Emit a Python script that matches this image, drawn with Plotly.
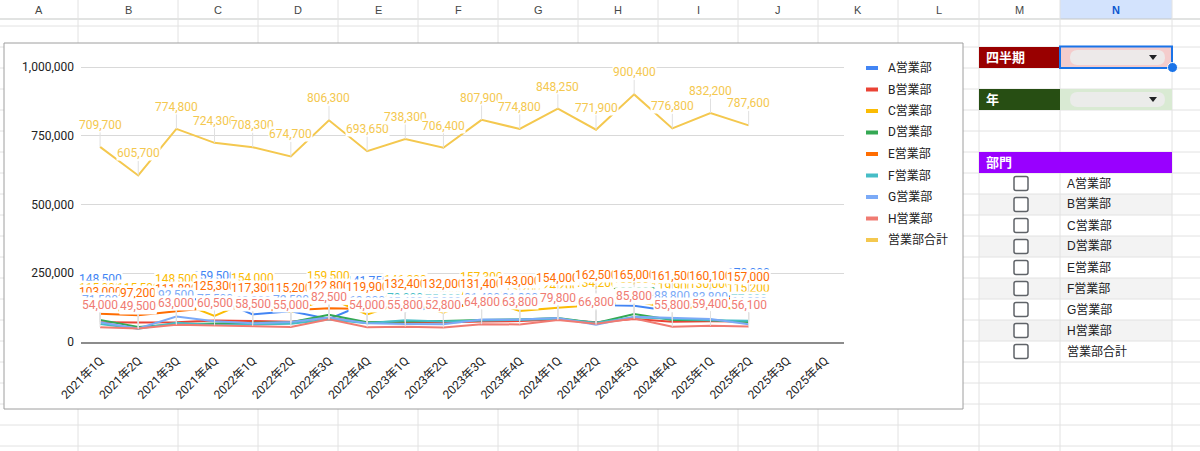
import plotly.graph_objects as go

W, H = 1200, 451
FONT = "Roboto, 'Noto Sans CJK JP', sans-serif"
SHEET_FONT = "Arial, 'Liberation Sans', 'Noto Sans CJK JP', sans-serif"

# x axis categories (the last two quarters have no data yet)
quarters = ["2021年1Q", "2021年2Q", "2021年3Q", "2021年4Q",
            "2022年1Q", "2022年2Q", "2022年3Q", "2022年4Q",
            "2023年1Q", "2023年2Q", "2023年3Q", "2023年4Q",
            "2024年1Q", "2024年2Q", "2024年3Q", "2024年4Q",
            "2025年1Q", "2025年2Q", "2025年3Q", "2025年4Q"]

# sales per department (hidden ones estimated)
dept_a = [148500, 120000, 152000, 159500, 100500, 112000, 83500, 141750, 112000,
          128000, 140000, 135000, 150000, 134600, 131400, 112000, 165000, 170000]
dept_b = [72000, 70500, 72000, 78500, 76000, 74000, 88000, 70000, 72500,
          71000, 75000, 76000, 82000, 72000, 84000, 74000, 75500, 74500]
dept_c = [115000, 115500, 148500, 95000, 154000, 108000, 159500, 100000, 146200,
          106600, 157300, 113200, 124200, 134200, 150000, 119900, 130000, 115200]
dept_d = [80500, 55000, 65000, 68000, 70000, 72000, 99000, 72000, 75000,
          76000, 80000, 82000, 87000, 69000, 102000, 80000, 79000, 73000]
dept_e = [103000, 97200, 111800, 125300, 117300, 115200, 122800, 119900, 132400,
          132000, 131400, 143000, 154000, 162500, 165000, 161500, 160100, 157000]
dept_f = [65200, 48500, 70000, 62000, 64000, 66000, 82000, 68000, 79000,
          75000, 78000, 80000, 84000, 70000, 90000, 84800, 79400, 77000]
dept_g = [71500, 49500, 92500, 75500, 68000, 72500, 89000, 68000, 65400,
          65000, 81400, 81800, 87250, 62800, 92200, 88800, 83800, 64800]
dept_h = [54000, 49500, 63000, 60500, 58500, 55000, 82500, 54000, 55800,
          52800, 64800, 63800, 79800, 66800, 85800, 55800, 59400, 56100]
total = [709700, 605700, 774800, 724300, 708300, 674700, 806300, 693650, 738300,
         706400, 807900, 774800, 848250, 771900, 900400, 776800, 832200, 787600]

series_names = ["A営業部", "B営業部", "C営業部", "D営業部", "E営業部",
                "F営業部", "G営業部", "H営業部", "営業部合計"]
series_values = [dept_a, dept_b, dept_c, dept_d, dept_e, dept_f, dept_g, dept_h, total]
series_colors = ["#4285f4", "#ea4335", "#fbbc04", "#34a853", "#ff6d01",
                 "#46bdc6", "#7baaf7", "#f07b72", "#f4c84f"]

y_ticks = [0, 250000, 500000, 750000, 1000000]

# spreadsheet around the chart
col_letters = ["A", "B", "C", "D", "E", "F", "G", "H", "I", "J", "K", "L", "M", "N"]
col_edges = [0, 78, 178, 258, 338, 418, 498, 578, 658, 738, 818, 898, 979, 1060, 1172]
row_lines = [26, 47, 68, 89, 110, 131, 152, 173, 194, 215, 236, 257, 278, 299,
             320, 341, 362, 383, 404, 425, 446]


def px(x):
    return x / W


def py(y):
    return 1 - y / H


shapes = []
annotations = []


def rect(x0, y0, x1, y1, fill, line_color=None, width=0):
    shapes.append(dict(type="rect", xref="paper", yref="paper",
                       x0=px(x0), x1=px(x1), y0=py(y1), y1=py(y0),
                       fillcolor=fill, line=dict(color=line_color or fill, width=width),
                       layer="below"))


def seg(x0, y0, x1, y1, color, width=1):
    shapes.append(dict(type="line", xref="paper", yref="paper",
                       x0=px(x0), x1=px(x1), y0=py(y0), y1=py(y1),
                       line=dict(color=color, width=width), layer="below"))


def round_rect(x0, y0, x1, y1, r, fill, line_color, width):
    p = (f"M{px(x0 + r)},{py(y0)} L{px(x1 - r)},{py(y0)} Q{px(x1)},{py(y0)} {px(x1)},{py(y0 + r)} "
         f"L{px(x1)},{py(y1 - r)} Q{px(x1)},{py(y1)} {px(x1 - r)},{py(y1)} "
         f"L{px(x0 + r)},{py(y1)} Q{px(x0)},{py(y1)} {px(x0)},{py(y1 - r)} "
         f"L{px(x0)},{py(y0 + r)} Q{px(x0)},{py(y0)} {px(x0 + r)},{py(y0)} Z")
    shapes.append(dict(type="path", xref="paper", yref="paper", path=p, fillcolor=fill,
                       line=dict(color=line_color, width=width), layer="below"))


def text(x, y, s, size=12, color="#222222", anchor="left", bold=False, family=SHEET_FONT):
    annotations.append(dict(x=px(x), y=py(y), xref="paper", yref="paper", text=s,
                            showarrow=False, xanchor=anchor, yanchor="middle",
                            font=dict(size=size, color=color, family=family,
                                      weight="bold" if bold else "normal")))


# --- sheet background ---
rect(1060, 0, 1172, 19, "#d3e3fd")
for i in range(1, 9, 2):  # banded rows in the checkbox list
    rect(979, 173 + 21 * i, 1172, 194 + 21 * i, "#f3f3f3")
for y in row_lines:
    seg(0, y, W, y, "#e2e2e2")
seg(0, 19, W, 19, "#c4c7c5")
for x in col_edges[1:]:
    seg(x, 0, x, H, "#e2e2e2")
for i, letter in enumerate(col_letters):
    text((col_edges[i] + col_edges[i + 1]) / 2, 10, letter, size=11,
         color="#0b57d0" if letter == "N" else "#444746", anchor="center", bold=letter == "N")

# --- control panel on the right ---
rect(979, 47, 1060, 68, "#990000")
rect(1060, 47, 1172, 68, "#f4cccc")
rect(979, 89, 1060, 110, "#274e13")
rect(1060, 89, 1172, 110, "#d9ead3")
rect(979, 152, 1172, 173, "#9900ff")
for yc in (57.5, 99.5):
    round_rect(1070, yc - 7.5, 1165, yc + 7.5, 7.5, "rgba(236,236,236,0.9)", "rgba(0,0,0,0)", 0)
    shapes.append(dict(type="path", xref="paper", yref="paper", layer="below",
                       path=f"M{px(1149)},{py(yc - 2.5)} L{px(1157)},{py(yc - 2.5)} L{px(1153)},{py(yc + 2.5)} Z",
                       fillcolor="#202124", line=dict(width=0)))
rect(1060, 46.5, 1172, 68, "rgba(0,0,0,0)", "#1a73e8", 2)
shapes.append(dict(type="circle", xref="paper", yref="paper", layer="below",
                   x0=px(1167.5), x1=px(1177.5), y0=py(72.5), y1=py(62.5),
                   fillcolor="#1a73e8", line=dict(color="white", width=1)))
text(984, 57.5, "四半期", size=13, color="white", bold=True)
text(984, 99.5, "年", size=13, color="white", bold=True)
text(984, 162.5, "部門", size=13, color="white", bold=True)
for i, name in enumerate(series_names):
    yc = 183.5 + 21 * i
    round_rect(1014, yc - 7, 1028, yc + 7, 2, "white", "#5f6368", 1.5)
    text(1065, yc, name, size=12, color="#202124")

# --- chart frame ---
rect(4, 43, 963, 409, "white", "#9e9e9e", 1)

# --- legend drawn like the Sheets one ---
for i, (name, color) in enumerate(zip(series_names, series_colors)):
    yc = 68 + 21.5 * i
    shapes.append(dict(type="line", xref="paper", yref="paper", layer="above",
                       x0=px(866), x1=px(878), y0=py(yc), y1=py(yc),
                       line=dict(color=color, width=4)))
    text(886, yc, name, size=12, color="#222222", family=FONT)

fig = go.Figure()
for name, color, vals in zip(series_names, series_colors, series_values):
    fig.add_trace(go.Scatter(x=quarters[:len(vals)], y=vals, mode="lines", name=name,
                             line=dict(color=color, width=2), showlegend=False))

# data labels with leader lines, painted in series order so later ones cover earlier ones
for name, color, vals in zip(series_names, series_colors, series_values):
    for q, v in zip(quarters, vals):
        annotations.append(dict(x=q, y=v, xref="x", yref="y", text=f"{v:,}",
                                showarrow=True, arrowhead=0, arrowwidth=1, arrowcolor="#e0e0e0",
                                ax=0, ay=-22, standoff=0, bgcolor="white", borderpad=0,
                                font=dict(size=12, color=color, family=FONT)))

fig.update_layout(
    template="none",
    width=W, height=H,
    margin=dict(l=0, r=0, t=0, b=0),
    paper_bgcolor="white",
    plot_bgcolor="rgba(0,0,0,0)",
    showlegend=False,
    font=dict(family=FONT, size=12, color="#222222"),
    xaxis=dict(domain=[px(81), px(844)], type="category", categoryorder="array",
               categoryarray=quarters, range=[-0.5, len(quarters) - 0.5],
               tickangle=-45, showgrid=False, showline=True, linecolor="#8c8c8c",
               linewidth=2, ticks="", ticklabelstandoff=5,
               tickfont=dict(size=12, color="#222222", family=FONT)),
    yaxis=dict(domain=[py(342), py(342 - 277.75)], range=[0, 1010000],
               tickvals=y_ticks, tickformat=",", showgrid=True, gridcolor="#d9d9d9",
               gridwidth=1, zeroline=False, showline=False, ticks="", ticklabelstandoff=6,
               tickfont=dict(size=12, color="#222222", family=FONT)),
    shapes=shapes,
    annotations=annotations,
)

fig.write_html("out.html", config={"displayModeBar": False},
               post_script="document.body.style.margin='0';")
